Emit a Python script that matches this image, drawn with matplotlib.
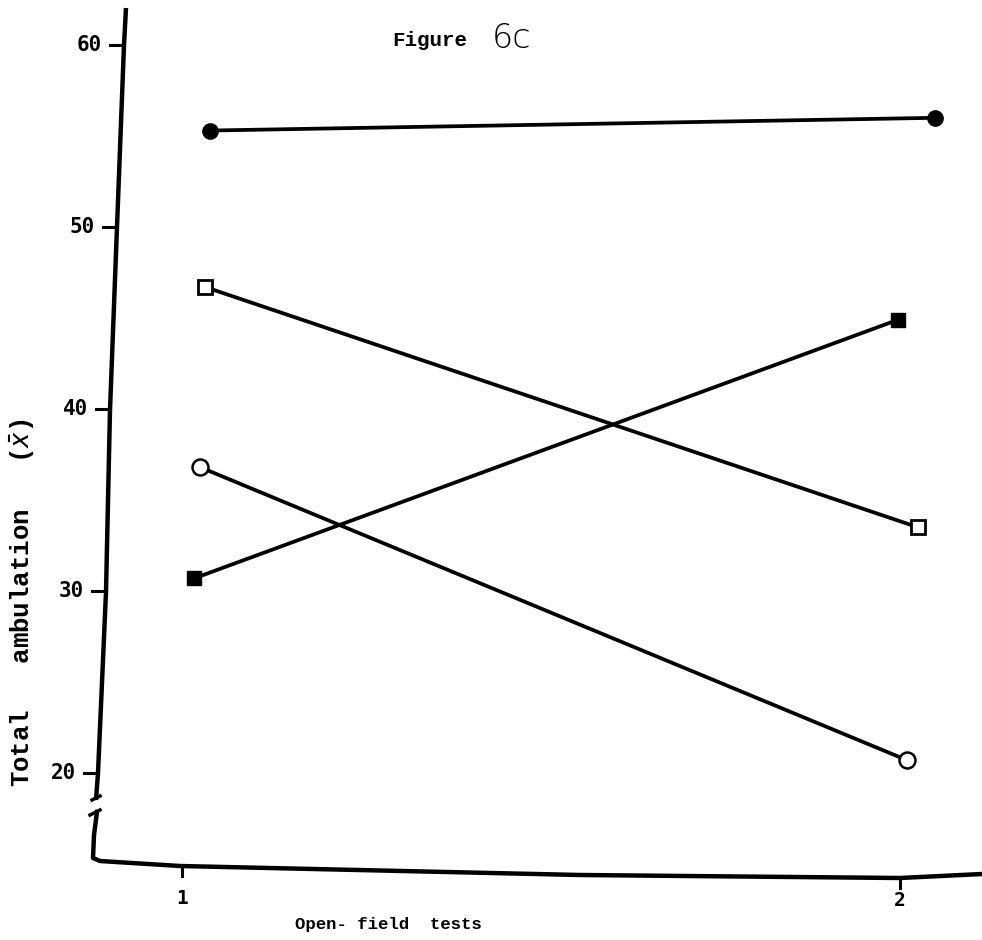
import matplotlib.pyplot as plt
import numpy as np

# values
tests = [1, 2]
filled_circle_x = [1.042, 2.049]
filled_circle = [55.3, 56.0]
open_square_x = [1.035, 2.025]
open_square = [46.7, 33.5]
filled_square_x = [1.02, 1.997]
filled_square = [30.7, 44.9]
open_circle_x = [1.028, 2.01]
open_circle = [36.8, 20.7]
y_ticks = [60, 50, 40, 30, 20]

W, H = 982, 940
fig = plt.figure(figsize=(W / 100, H / 100), dpi=100)
ax = fig.add_axes([0, 0, 1, 1])

# pixel <-> data mapping of the scan (x: 1 at px 180, 2 at px 900; y: 60 at py 45, 10 per 182 px)
def px(x):
    return 1 + (x - 180) / 720.0

def py(y):
    return 60 - (y - 45) / 18.2

ax.set_xlim(px(0), px(W))
ax.set_ylim(py(H), py(0))
ax.axis("off")

lw = 2.7
kw = dict(color="black", lw=lw, solid_capstyle="round", zorder=2)
ax.plot(filled_circle_x, filled_circle, marker="o", ms=11, mfc="black", mec="black", **kw)
ax.plot(open_square_x, open_square, marker="s", ms=9.5, mfc="white", mec="black", mew=2, **kw)
ax.plot(filled_square_x, filled_square, marker="s", ms=9.5, mfc="black", mec="black", **kw)
ax.plot(open_circle_x, open_circle, marker="o", ms=11.5, mfc="white", mec="black", mew=1.8, **kw)

# hand-drawn axes (slightly tilted), with break near the bottom of y-axis
ya = np.array([(126, 8), (124, 45), (117, 227), (110, 410), (106, 592), (98, 773), (96, 800)])
ax.plot(px(ya[:, 0]), py(ya[:, 1]), color="black", lw=3.2, solid_capstyle="butt")
yb = np.array([(97, 812), (94, 835), (93, 858), (100, 861), (180, 866), (580, 875),
               (900, 878), (982, 874)])
ax.plot(px(yb[:, 0]), py(yb[:, 1]), color="black", lw=3.2, solid_joinstyle="round")
ax.plot(px(np.array([90, 100])), py(np.array([815, 810])), color="black", lw=2.5)
ax.plot(px(np.array([92, 100])), py(np.array([800, 796])), color="black", lw=2.5)

# y ticks
tick_x = [124, 117, 110, 106, 98]
mono = ["DejaVu Sans Mono"]
for v, tx in zip(y_ticks, tick_x):
    ax.plot([px(tx - 14), px(tx)], [v, v], color="black", lw=2.2)
    ax.text(px(tx - 22), v, f"{v}", ha="right", va="center", fontsize=15,
            family=mono, fontweight="bold")

# x ticks
for t, (tx, ty, ly) in zip(tests, [(182, 866, 898), (900, 878, 900)]):
    ax.plot([px(tx), px(tx)], [py(ty), py(ty + 10)], color="black", lw=2.2)
    ax.text(px(tx), py(ly), str(t), ha="center", va="center", fontsize=14,
            family=mono, fontweight="bold")

ax.text(px(388), py(925), "Open- field  tests", ha="center", va="center",
        fontsize=12.5, family=["Liberation Mono"], fontweight="bold")
ax.text(px(22), py(603), "Total   ambulation   ($\\bar{x}$)", ha="center", va="center",
        rotation=90, fontsize=18.5, family=["Liberation Mono"], fontweight="bold")

ax.text(px(430), py(40), "Figure", ha="center", va="center", fontsize=15,
        family=["Liberation Mono"], fontweight="bold")
ax.text(px(512), py(38), "6c", ha="center", va="center", fontsize=24,
        family=["DejaVu Sans"], fontweight="light")

fig.savefig("out.png", dpi=100)
